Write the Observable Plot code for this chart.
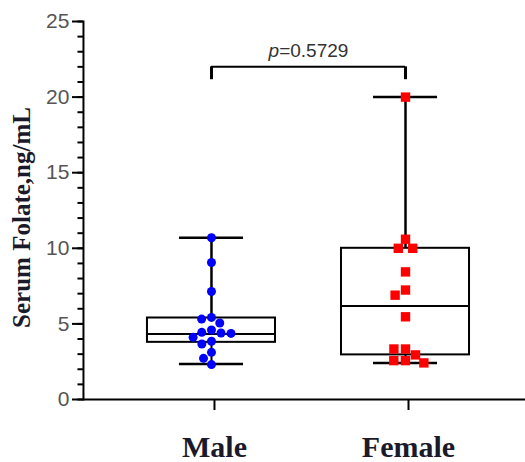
<!DOCTYPE html>
<html><head><meta charset="utf-8">
<script src="https://cdn.jsdelivr.net/npm/d3@7"></script>
<script src="https://cdn.jsdelivr.net/npm/@observablehq/plot@0.6"></script>
<style>body{margin:0;background:#fff}</style>
</head><body><div id="chart"></div>
<script>
const groups = ["Male", "Female"];
const maleValues = [10.7, 9.06, 7.14, 5.43, 5.32, 5.06, 4.60, 4.44, 4.40, 4.37, 4.11, 3.85, 3.67, 3.12, 2.72, 2.31];
const femaleValues = [20.0, 10.6, 10.0, 10.0, 8.44, 7.24, 6.9, 5.47, 3.34, 3.34, 2.95, 2.57, 2.57, 2.42];
const boxMin = [2.35, 2.42];
const boxQ1 = [3.78, 2.95];
const boxMedian = [4.33, 6.18];
const boxQ3 = [5.39, 10.0];
const boxMax = [10.7, 20.0];
const yMajorTicks = [0, 5, 10, 15, 20, 25];
const yMinorTicks = [0,1,2,3,4,5,6,7,8,9,10,11,12,13,14,15,16,17,18,19,20,21,22,23,24,25];
const yTitle = "Serum Folate,ng/mL";
const pLabel = "p=0.5729";
const pBracketY = [22.0];
const pTipY = [21.15];

const stats = groups.map((g, i) => ({sex: g, min: boxMin[i], q1: boxQ1[i], median: boxMedian[i], q3: boxQ3[i], max: boxMax[i]}));
const male = maleValues.map(v => ({sex: "Male", value: v}));
const female = femaleValues.map(v => ({sex: "Female", value: v}));
const bracket = [{from: groups[0], to: groups[1], y: pBracketY[0], tip: pTipY[0], label: pLabel}];

const ink = "#000";
const shiftL = -31; // first facet's left edge -> frame's left edge
const shiftR = -23; // last facet's right edge -> frame's right edge
const serif = "'Liberation Serif', 'Times New Roman', serif";
const chart = Plot.plot({
  width: 525, height: 462,
  marginLeft: 83, marginRight: 0, marginTop: 21, marginBottom: 63,
  style: {background: "white", fontFamily: "'Liberation Sans', Arial, sans-serif"},
  fx: {domain: groups, paddingInner: 0, paddingOuter: 0.139, align: 0.574, round: false, label: null},
  x: {domain: [-1, 1], axis: null},
  y: {domain: [0, 25], label: null},
  marks: [
    Plot.ruleY([0], {facetAnchor: "left", insetLeft: shiftL, stroke: ink, strokeWidth: 2}),
    Plot.ruleY([0], {facetAnchor: "right", insetRight: shiftR, stroke: ink, strokeWidth: 2}),
    Plot.frame({anchor: "left", facetAnchor: "left", dx: shiftL, stroke: ink, strokeWidth: 2}),
    Plot.axisY({ticks: yMinorTicks, tickSize: 5.5, fill: "none", stroke: ink, strokeWidth: 2, label: null, dx: shiftL}),
    Plot.axisY({ticks: yMajorTicks, tickSize: 11, tickPadding: 3, fontSize: 21, fill: "#555", stroke: ink, strokeWidth: 2, label: null, dx: shiftL}),
    Plot.axisFx({anchor: "bottom", tickSize: 11, tickPadding: 25, fontSize: 30, fontFamily: serif, fontWeight: "bold", fill: "#1a1a2a", stroke: ink, strokeWidth: 2, label: null, dx: 3}),
    Plot.text([yTitle], {facetAnchor: "left", text: d => d, frameAnchor: "left", textAnchor: "middle", rotate: -90, dx: shiftL - 61, dy: 7, fontFamily: serif, fontWeight: "bold", fontSize: 25, fill: "#1a1a2a"}),
    // whiskers
    Plot.ruleX(stats, {fx: "sex", x: 0, y1: "q3", y2: "max", stroke: ink, strokeWidth: 2.5}),
    Plot.ruleX(stats, {fx: "sex", x: 0, y1: "min", y2: "q1", stroke: ink, strokeWidth: 2}),
    Plot.ruleY(stats, {fx: "sex", y: "max", insetLeft: 65, insetRight: 65, stroke: ink, strokeWidth: 2.5}),
    Plot.ruleY(stats, {fx: "sex", y: "min", insetLeft: 65, insetRight: 65, stroke: ink, strokeWidth: 2.5}),
    // box
    Plot.barY(stats, {fx: "sex", y1: "q1", y2: "q3", insetLeft: 33, insetRight: 33, fill: "white", stroke: ink, strokeWidth: 2}),
    Plot.ruleY(stats, {fx: "sex", y: "median", insetLeft: 33, insetRight: 33, stroke: ink, strokeWidth: 2}),
    // p-value bracket
    Plot.ruleY(bracket, {fx: "from", y: "y", x1: 0, x2: 1, stroke: ink, strokeWidth: 2}),
    Plot.ruleY(bracket, {fx: "to", y: "y", x1: -1, x2: 0, stroke: ink, strokeWidth: 2}),
    Plot.ruleX(bracket, {fx: "from", x: 0, y1: "tip", y2: "y", stroke: ink, strokeWidth: 3}),
    Plot.ruleX(bracket, {fx: "to", x: 0, y1: "tip", y2: "y", stroke: ink, strokeWidth: 3}),
    Plot.text(bracket, {fx: "from", x: 1, y: "y", text: "label", dy: -10, lineAnchor: "bottom", fontSize: 19, fill: "#333"}),
    // points
    Plot.dot(male, Plot.dodgeX("middle", {fx: "sex", y: "value", r: 4.5, fill: "#0000ff", padding: 6.5})),
    Plot.dot(female, Plot.dodgeX("middle", {fx: "sex", y: "value", r: 5.3, symbol: "square", fill: "#ff0000", padding: 4.8}))
  ]
});
document.getElementById("chart").appendChild(chart);
d3.select(chart).selectAll("text").filter(function () { return this.textContent === pLabel; }).each(function () {
  const t = d3.select(this);
  t.text(null);
  t.append("tspan").attr("font-style", "italic").text(pLabel.slice(0, 1));
  t.append("tspan").text(pLabel.slice(1));
});
</script>
</body></html>
